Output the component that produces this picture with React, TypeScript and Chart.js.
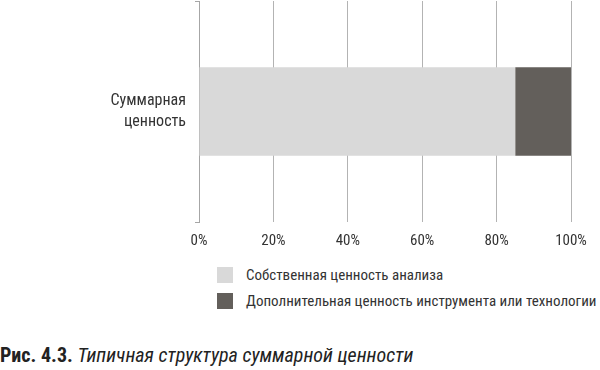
import React, { useEffect, useRef } from "react";
import { Chart, registerables } from "chart.js";

Chart.register(...registerables);

const categories: string[][] = [["Суммарная", "ценность"]];
const seriesNames = [
  "Собственная ценность анализа",
  "Дополнительная ценность инструмента или технологии",
];
const ownValue = [85];
const addedValue = [15];
const colors = ["#d9d9d9", "#635f5b"];
const xTicks = [0, 20, 40, 60, 80, 100];

const FONT = "'Liberation Sans Narrow', 'Roboto Condensed', 'Arial Narrow', Roboto, sans-serif";

export default function App() {
  const ref = useRef<HTMLCanvasElement | null>(null);
  useEffect(() => {
    document.body.style.margin = "0";
    const ctx = ref.current!;
    const chart = new Chart(ctx, {
      type: "bar",
      data: {
        labels: categories as any,
        datasets: [
          { label: seriesNames[0], data: ownValue, backgroundColor: colors[0], categoryPercentage: 1, barPercentage: 0.4 },
          { label: seriesNames[1], data: addedValue, backgroundColor: colors[1], categoryPercentage: 1, barPercentage: 0.4 },
        ],
      },
      options: {
        indexAxis: "y",
        animation: false,
        responsive: false,
        maintainAspectRatio: false,
        layout: { padding: { top: 1, right: 29, left: 0, bottom: 0 } },
        plugins: { legend: { display: false }, tooltip: { enabled: false } },
        scales: {
          x: {
            stacked: true,
            min: xTicks[0],
            max: xTicks[xTicks.length - 1],
            afterBuildTicks: (s: any) => {
              s.ticks = xTicks.map((v) => ({ value: v }));
            },
            afterFit: (s: any) => {
              s.height = 28;
              s.paddingLeft = 0;
              s.paddingRight = 0;
            },
            border: { display: false },
            grid: { color: "#b3b3b3", lineWidth: 1, drawTicks: false },
            ticks: {
              padding: 10,
              color: "#333",
              font: { family: FONT, size: 15 },
              callback: (v: any) => v + "%",
            },
          },
          y: {
            stacked: true,
            afterFit: (s: any) => {
              s.width = 199;
              s.paddingTop = 0;
              s.paddingBottom = 0;
            },
            border: { display: true, color: "#a6a6a6", width: 1 },
            grid: { offset: true, drawOnChartArea: false, drawTicks: true, tickLength: 4, color: "#a6a6a6" },
            ticks: {
              padding: 9,
              color: "#333",
              font: { family: FONT, size: 16, lineHeight: 1.35 },
            },
          },
        },
      },
    });
    return () => chart.destroy();
  }, []);

  return (
    <div style={{ position: "relative", width: 600, height: 370, background: "#fff", fontFamily: FONT }}>
      <canvas ref={ref} width={600} height={250} style={{ position: "absolute", left: 0, top: 0, width: 600, height: 250 }} />
      {seriesNames.map((n, i) => (
        <div key={n} style={{ position: "absolute", left: 217, top: 267 + i * 26, height: 16, display: "flex", alignItems: "center", whiteSpace: "nowrap" }}>
          <span style={{ display: "inline-block", width: 16, height: 16, background: colors[i], marginRight: 13 }} />
          <span style={{ fontSize: 15, color: "#333" }}>{n}</span>
        </div>
      ))}
      <div style={{ position: "absolute", left: 0, top: 343, fontSize: 20, color: "#222", whiteSpace: "nowrap" }}>
        <b>Рис. 4.3.</b> <i>Типичная структура суммарной ценности</i>
      </div>
    </div>
  );
}
